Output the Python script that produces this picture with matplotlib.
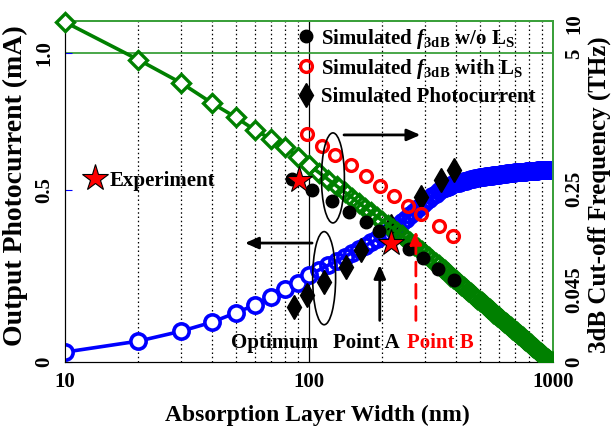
import numpy as np
import matplotlib
matplotlib.use("Agg")
import matplotlib.pyplot as plt
from matplotlib.patches import Ellipse
from matplotlib.lines import Line2D

# ---------------- data ----------------
width_nm = [10, 20, 30, 40, 50, 60, 70, 80, 90] + list(range(100, 1001, 10))

# output photocurrent (mA), left axis
photocurrent_ma = [
    0.029, 0.061, 0.090, 0.116, 0.143, 0.166, 0.189, 0.212, 0.230,
    0.253, 0.268, 0.282, 0.294, 0.306, 0.318, 0.329, 0.339, 0.348, 0.358,
    0.369, 0.378, 0.387, 0.396, 0.406, 0.417, 0.427, 0.437, 0.447, 0.456,
    0.466, 0.474, 0.482, 0.490, 0.497, 0.503, 0.508, 0.513, 0.517, 0.521,
    0.525, 0.527, 0.530, 0.532, 0.535, 0.537, 0.539, 0.541, 0.543, 0.545,
    0.547, 0.548, 0.549, 0.550, 0.551, 0.552, 0.553, 0.554, 0.555, 0.556,
    0.557, 0.558, 0.559, 0.560, 0.560, 0.561, 0.562, 0.563, 0.563, 0.564,
    0.565, 0.565, 0.566, 0.566, 0.567, 0.567, 0.568, 0.568, 0.569, 0.569,
    0.569, 0.570, 0.570, 0.570, 0.571, 0.571, 0.571, 0.572, 0.572, 0.572,
    0.572, 0.572, 0.573, 0.573, 0.573, 0.573, 0.573, 0.573, 0.573, 0.573,
    0.573,
]

# 3dB cut-off frequency (THz), right axis
cutoff_thz = [
    10.33, 4.80, 3.98, 3.28, 2.78, 2.33, 2.01, 1.73, 1.38,
    1.098, 0.831, 0.584, 0.356, 0.244, 0.233, 0.222, 0.212, 0.203, 0.194,
    0.186, 0.178, 0.170, 0.163, 0.156, 0.149, 0.143, 0.137, 0.131, 0.125,
    0.118, 0.112, 0.106, 0.100, 0.095, 0.090, 0.085, 0.080, 0.074, 0.070,
    0.065, 0.060, 0.056, 0.052, 0.048, 0.0444, 0.0433, 0.0420, 0.0408, 0.0397,
    0.0385, 0.0374, 0.0363, 0.0351, 0.0341, 0.0330, 0.0320, 0.0310, 0.0300, 0.0291,
    0.0281, 0.0271, 0.0262, 0.0253, 0.0244, 0.0235, 0.0227, 0.0218, 0.0209, 0.0201,
    0.0193, 0.0185, 0.0177, 0.0169, 0.0161, 0.0154, 0.0146, 0.0139, 0.0131, 0.0124,
    0.0117, 0.0110, 0.0103, 0.0096, 0.0089, 0.0082, 0.0076, 0.0069, 0.0062, 0.0056,
    0.0049, 0.0043, 0.0037, 0.0031, 0.0024, 0.0019, 0.0013, 0.0007, 0.0002, 0.0,
    0.0,
]

# simulated f3dB without Ls (THz)
f3db_wo_x = [85, 103, 124, 146, 171, 193, 256, 294, 339, 391]
f3db_wo_thz = [0.606, 0.248, 0.226, 0.203, 0.183, 0.165, 0.128, 0.110, 0.088, 0.065]

# simulated f3dB with Ls (THz)
f3db_with_x = [98, 113, 128, 149, 171, 195, 222, 255, 289, 340, 390]
f3db_with_thz = [2.19, 1.77, 1.45, 1.10, 0.711, 0.359, 0.236, 0.216, 0.199, 0.175, 0.155]

# simulated photocurrent (mA)
sim_pc_x = [87, 98, 115, 142, 163, 216, 289, 349, 391]
sim_pc_ma = [0.160, 0.195, 0.233, 0.276, 0.326, 0.396, 0.480, 0.537, 0.573]

# experiment (THz)
exp_x = [91, 216]
exp_thz = [0.570, 0.140]

x_ticks = [10, 100, 1000]
x_tick_labels = ["10", "100", "1000"]
left_ticks = [0, 0.5, 1.0]
left_tick_labels = ["0", "0.5", "1.0"]
right_ticks = [0, 0.045, 0.25, 5, 10]
right_tick_labels = ["0", "0.045", "0.25", "5", "10"]

# ---------------- style ----------------
plt.rcParams["font.family"] = ["Liberation Serif", "DejaVu Serif"]
plt.rcParams["font.weight"] = "bold"
plt.rcParams["mathtext.fontset"] = "custom"
plt.rcParams["mathtext.rm"] = "Liberation Serif:bold"
plt.rcParams["mathtext.it"] = "Liberation Serif:italic:bold"
plt.rcParams["mathtext.bf"] = "Liberation Serif:bold"

GREEN = "#008000"
LIGHT_GREEN = "#3aa03a"
BLUE = "#0000ff"
RED = "#ff0000"

# piecewise axis scales
L_VALS = [0.0, 0.5, 1.0, 1.117]
L_POS = [0.0, 0.504, 0.906, 1.0]
R_VALS = [0.0, 0.045, 0.25, 5.0, 10.0, 10.5]
R_POS = [0.0, 0.211, 0.507, 0.903, 0.991, 1.0]


def left_fwd(v):
    return np.interp(v, L_VALS, L_POS)


def left_inv(p):
    return np.interp(p, L_POS, L_VALS)


def right_fwd(v):
    return np.interp(v, R_VALS, R_POS)


def right_inv(p):
    return np.interp(p, R_POS, R_VALS)


fig = plt.figure(figsize=(6.11, 4.29), dpi=100)
ax = fig.add_axes([0.1064, 0.156, 0.7987, 0.795])
ax2 = ax.twinx()

ax.set_xscale("log")
ax.set_xlim(10, 1000)
ax.set_yscale("function", functions=(left_fwd, left_inv))
ax.set_ylim(0, 1.117)
ax2.set_yscale("function", functions=(right_fwd, right_inv))
ax2.set_ylim(0, 10.5)

# grid
ax.set_xticks(x_ticks)
ax.set_xticklabels(x_tick_labels, fontsize=15, fontweight="bold")
ax.xaxis.grid(True, which="minor", linestyle=(0, (1.2, 2.2)), color="black", lw=0.9)
ax.axvline(100, color="black", lw=0.9, zorder=1)
ax.axhline(1.0, color=LIGHT_GREEN, lw=1.3, zorder=1)
ax.tick_params(axis="x", which="both", length=0, pad=7)

ax.set_yticks(left_ticks)
ax.set_yticklabels(left_tick_labels, fontsize=15, fontweight="bold",
                   rotation=90, va="center")
ax.tick_params(axis="y", direction="in", length=5, color=BLUE, pad=8)
ax2.set_yticks(right_ticks)
ax2.set_yticklabels(right_tick_labels, fontsize=15, fontweight="bold",
                    rotation=90, va="center")
ax2.tick_params(axis="y", direction="in", length=0, pad=8)
ax2.yaxis.set_minor_locator(plt.NullLocator())
ax.yaxis.set_minor_locator(plt.NullLocator())

for a in (ax, ax2):
    a.spines["top"].set_color(LIGHT_GREEN)
    a.spines["top"].set_linewidth(1.3)
    a.spines["right"].set_color(LIGHT_GREEN)
    a.spines["right"].set_linewidth(1.3)
    a.spines["left"].set_color("black")
    a.spines["bottom"].set_color("black")

# photocurrent curve
ax.plot(width_nm, photocurrent_ma, color=BLUE, lw=2.6, zorder=3)
ax.plot(width_nm[:10], photocurrent_ma[:10], ls="none", marker="o", ms=11,
        mfc="white", mec=BLUE, mew=2.6, zorder=4)
ax.plot(width_nm[10:], photocurrent_ma[10:], ls="none", marker="o", ms=11,
        mfc="none", mec=BLUE, mew=2.6, zorder=4)
ax.plot(sim_pc_x, sim_pc_ma, ls="none", marker="d", ms=12, color="black", zorder=6)

# cut-off frequency curve
ax2.plot(width_nm, cutoff_thz, color=GREEN, lw=2.6, zorder=2)
ax2.plot(width_nm[:10], cutoff_thz[:10], ls="none", marker="D", ms=9,
         mfc="white", mec=GREEN, mew=2.4, zorder=3, clip_on=False)
ax2.plot(width_nm[10:], cutoff_thz[10:], ls="none", marker="D", ms=9,
         mfc="none", mec=GREEN, mew=2.4, zorder=3)
ax2.plot(f3db_wo_x, f3db_wo_thz, ls="none", marker="o", ms=9, color="black", zorder=5)
ax2.plot(f3db_with_x, f3db_with_thz, ls="none", marker="o", ms=8.5,
         mfc="none", mec=RED, mew=2.4, zorder=5)
ax2.plot(exp_x, exp_thz, ls="none", marker="*", ms=20, mfc=RED, mec="black",
         mew=0.8, zorder=7)

# legend
handles = [
    Line2D([], [], ls="none", marker="o", ms=9, color="black"),
    Line2D([], [], ls="none", marker="o", ms=8.5, mfc="none", mec=RED, mew=2.4),
    Line2D([], [], ls="none", marker="d", ms=12, color="black"),
]
labels = [
    r"Simulated $f_{\mathrm{3dB}}$ w/o L$_{\mathrm{S}}$",
    r"Simulated $f_{\mathrm{3dB}}$ with L$_{\mathrm{S}}$",
    "Simulated Photocurrent",
]
leg = ax2.legend(handles, labels, loc="upper left", bbox_to_anchor=(0.475, 0.99),
                 frameon=False, fontsize=15, handlelength=0.7, handletextpad=0.35,
                 labelspacing=0.3, borderpad=0.1, borderaxespad=0.0)
for t in leg.get_texts():
    t.set_fontweight("bold")

# annotations
T = ax.transAxes
ax2.add_patch(Ellipse((0.549, 0.540), 0.047, 0.264, transform=T, fill=False,
                      ec="black", lw=1.2, zorder=8))
ax2.add_patch(Ellipse((0.531, 0.246), 0.047, 0.273, transform=T, fill=False,
                      ec="black", lw=1.2, zorder=8))
arrow_kw = dict(arrowstyle="-|>,head_length=0.8,head_width=0.35", color="black", lw=2)
ax2.annotate("", xy=(0.734, 0.666), xytext=(0.566, 0.666), xycoords=T,
             textcoords=T, arrowprops=arrow_kw, zorder=8)
ax2.annotate("", xy=(0.363, 0.349), xytext=(0.512, 0.349), xycoords=T,
             textcoords=T, arrowprops=arrow_kw, zorder=8)
ax2.annotate("", xy=(0.645, 0.293), xytext=(0.645, 0.114), xycoords=T,
             textcoords=T, arrowprops=arrow_kw, zorder=8)
ax2.annotate("", xy=(0.719, 0.393), xytext=(0.719, 0.114), xycoords=T,
             textcoords=T, zorder=8,
             arrowprops=dict(arrowstyle="-|>,head_length=0.8,head_width=0.35",
                             color=RED, lw=2, linestyle=(0, (5, 3))))

ax2.text(0.430, 0.056, "Optimum", transform=T, ha="center", va="center",
         fontsize=15, fontweight="bold", zorder=9)
ax2.text(0.617, 0.056, "Point A", transform=T, ha="center", va="center",
         fontsize=15, fontweight="bold", zorder=9)
ax2.text(0.770, 0.056, "Point B", transform=T, ha="center", va="center",
         fontsize=15, fontweight="bold", color=RED, zorder=9)
ax2.plot([0.061], [0.540], transform=T, ls="none", marker="*", ms=20,
         mfc=RED, mec="black", mew=0.8, zorder=9)
ax2.text(0.092, 0.530, "Experiment", transform=T, ha="left", va="center",
         fontsize=15, fontweight="bold", zorder=9)

# axis labels
ax.set_xlabel("Absorption Layer Width (nm)", fontsize=17, fontweight="bold")
ax.xaxis.set_label_coords(0.518, -0.125)
ax.set_ylabel("Output Photocurrent (mA)", fontsize=20, fontweight="bold")
ax.yaxis.set_label_coords(-0.076, 0.516)
ax2.set_ylabel("3dB Cut-off Frequency (THz)", fontsize=18, fontweight="bold",
               rotation=90)
ax2.yaxis.set_label_coords(1.07, 0.49)

fig.savefig("out.png", dpi=100, facecolor="white")
